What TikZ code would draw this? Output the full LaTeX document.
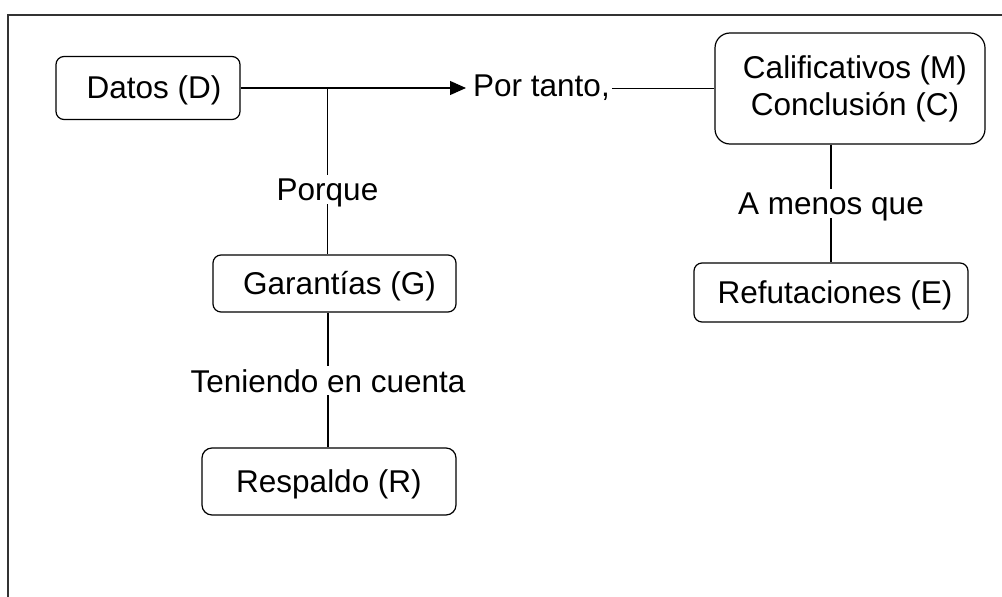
\documentclass[tikz,border=0pt]{standalone}
\usepackage{fontspec}
\setmainfont{Liberation Sans}
\usetikzlibrary{arrows.meta}
\begin{document}
\begin{tikzpicture}[x=1bp,y=-1bp,
  every node/.style={font=\fontsize{31.5bp}{37bp}\selectfont},
  boxbase/.style={draw, line width=1.2bp, rounded corners=8bp, inner sep=0pt},
  box/.style={boxbase, text height=25bp, text depth=3bp},
  lbl/.style={inner xsep=0pt, inner ysep=3bp, text height=22.5bp, text depth=0pt, anchor=base},
  conn/.style={line width=1.2bp},
  arr/.style={conn, -{Triangle[length=16bp,width=14bp]}}]
\useasboundingbox (0,0) rectangle (1002,597);
% frame
\draw[line width=1.2bp, black!80] (8,597) -- (8,15) -- (1002,15);
% boxes
\node[box, minimum width=184bp, minimum height=63bp] (datos) at (148,88) {\hspace*{12bp}Datos (D)};
\node[boxbase, rounded corners=15bp, align=center, minimum width=270bp, minimum height=111bp] (calif) at (850,88.5)
  {\hspace*{10bp}Calificativos (M)\\\hspace*{10bp}Conclusión (C)};
\node[box, minimum width=274bp, minimum height=59bp] (refut) at (831,292.5) {\hspace*{8bp}Refutaciones (E)};
\node[box, minimum width=243bp, minimum height=57bp] (garant) at (334.5,283.5) {\hspace*{10bp}Garantías (G)};
\node[box, rounded corners=10bp, minimum width=254bp, minimum height=67bp] (respaldo) at (329,481.5) {Respaldo (R)};
% labels
\node[lbl] (porque) at (327.5,201) {Porque};
\node[lbl] (teniendo) at (328,392) {Teniendo en cuenta};
\node[lbl] (amenos) at (831,215) {A menos que};
\node[lbl, anchor=base west, inner xsep=2bp] (tanto) at (471,97) {Por tanto,};
% connectors
\draw[arr, shorten >=5bp] (datos.east) -- (datos.east -| tanto.west);
\draw[conn] (tanto.east |- calif.west) -- (calif.west);
\draw[conn] (porque.north |- datos.east) -- (porque.north);
\draw[conn] (porque.south) -- (porque.south |- garant.north);
\draw[conn] (teniendo.north |- garant.south) -- (teniendo.north);
\draw[conn] (teniendo.south) -- (teniendo.south |- respaldo.north);
\draw[conn] (amenos.north |- calif.south) -- (amenos.north);
\draw[conn] (amenos.south) -- (amenos.south |- refut.north);
\end{tikzpicture}
\end{document}
